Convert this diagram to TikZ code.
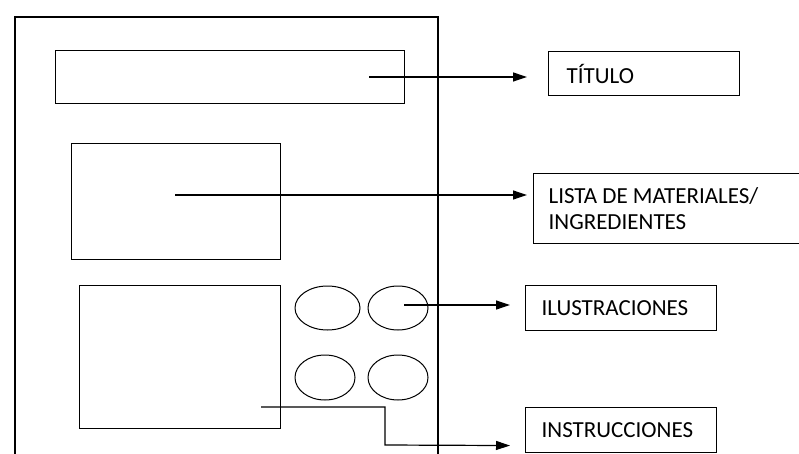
\documentclass[tikz,border=0pt]{standalone}
\usepackage{fontspec}
\setmainfont{Carlito}
\usetikzlibrary{positioning,arrows.meta,shapes.geometric}

\begin{document}
\begin{tikzpicture}[
  x=1pt, y=-1pt,
  font=\fontsize{23}{26}\selectfont,
  part/.style={draw, line width=1.2pt, inner sep=0pt, anchor=north west},
  oval/.style={draw, ellipse, line width=1pt, inner sep=0pt, minimum width=60pt, minimum height=44pt},
  tag/.style={draw, line width=1.2pt, anchor=north west, align=flush left, inner ysep=0pt, minimum height=45pt},
  arr/.style={-{Triangle[length=14pt,width=9pt]}, line width=1.2pt}]
\clip (0,0) rectangle (799,454);
\fill[white] (0,0) rectangle (799,454);
% page sketch
\draw[line width=1.2pt] (15,460) -- (15,17) -- (438,17) -- (438,460);
\node[part, minimum width=349pt, minimum height=53pt] (titlebar) at (55,50) {};
\node[part, minimum width=209pt, minimum height=116pt] (matbox) at (71,143) {};
\node[part, minimum width=201pt, minimum height=143pt] (stepbox) at (79,285) {};
\node[oval, minimum width=65pt] (ill1) at (327.5,308) {};
\node[oval] (ill2) at (398,308) {};
\node[oval, minimum height=45pt] (ill3) at (325,377.5) {};
\node[oval, minimum height=45pt] (ill4) at (398,377.5) {};
% labels
\node[tag, inner xsep=18pt, text width=155pt, minimum height=44pt] (titulo) at (548,51) {TÍTULO};
\node[tag, inner xsep=15pt, text width=280pt, minimum height=70pt] (lista) at (533,173) {LISTA DE MATERIALES/\\ INGREDIENTES};
\node[tag, inner xsep=16pt, text width=159pt] (ilus) at (525,285) {ILUSTRACIONES};
\node[tag, inner xsep=16pt, text width=159pt] (instr) at (525,407) {INSTRUCCIONES};
% arrows
\coordinate (tstart) at (369,77);
\coordinate (mstart) at (175,195);
\coordinate (istart) at (404,305);
\coordinate (sstart) at (261,407);
\draw[arr, shorten >=21pt] (tstart) -- (tstart -| titulo.west);
\draw[arr, shorten >=6pt] (mstart) -- (mstart -| lista.west);
\draw[arr, shorten >=15pt] (istart) -- (istart -| ilus.west);
\draw[arr, shorten >=15pt] (sstart) -| (385,445) -- ([yshift=-15.5pt]instr.west);
\end{tikzpicture}
\end{document}
